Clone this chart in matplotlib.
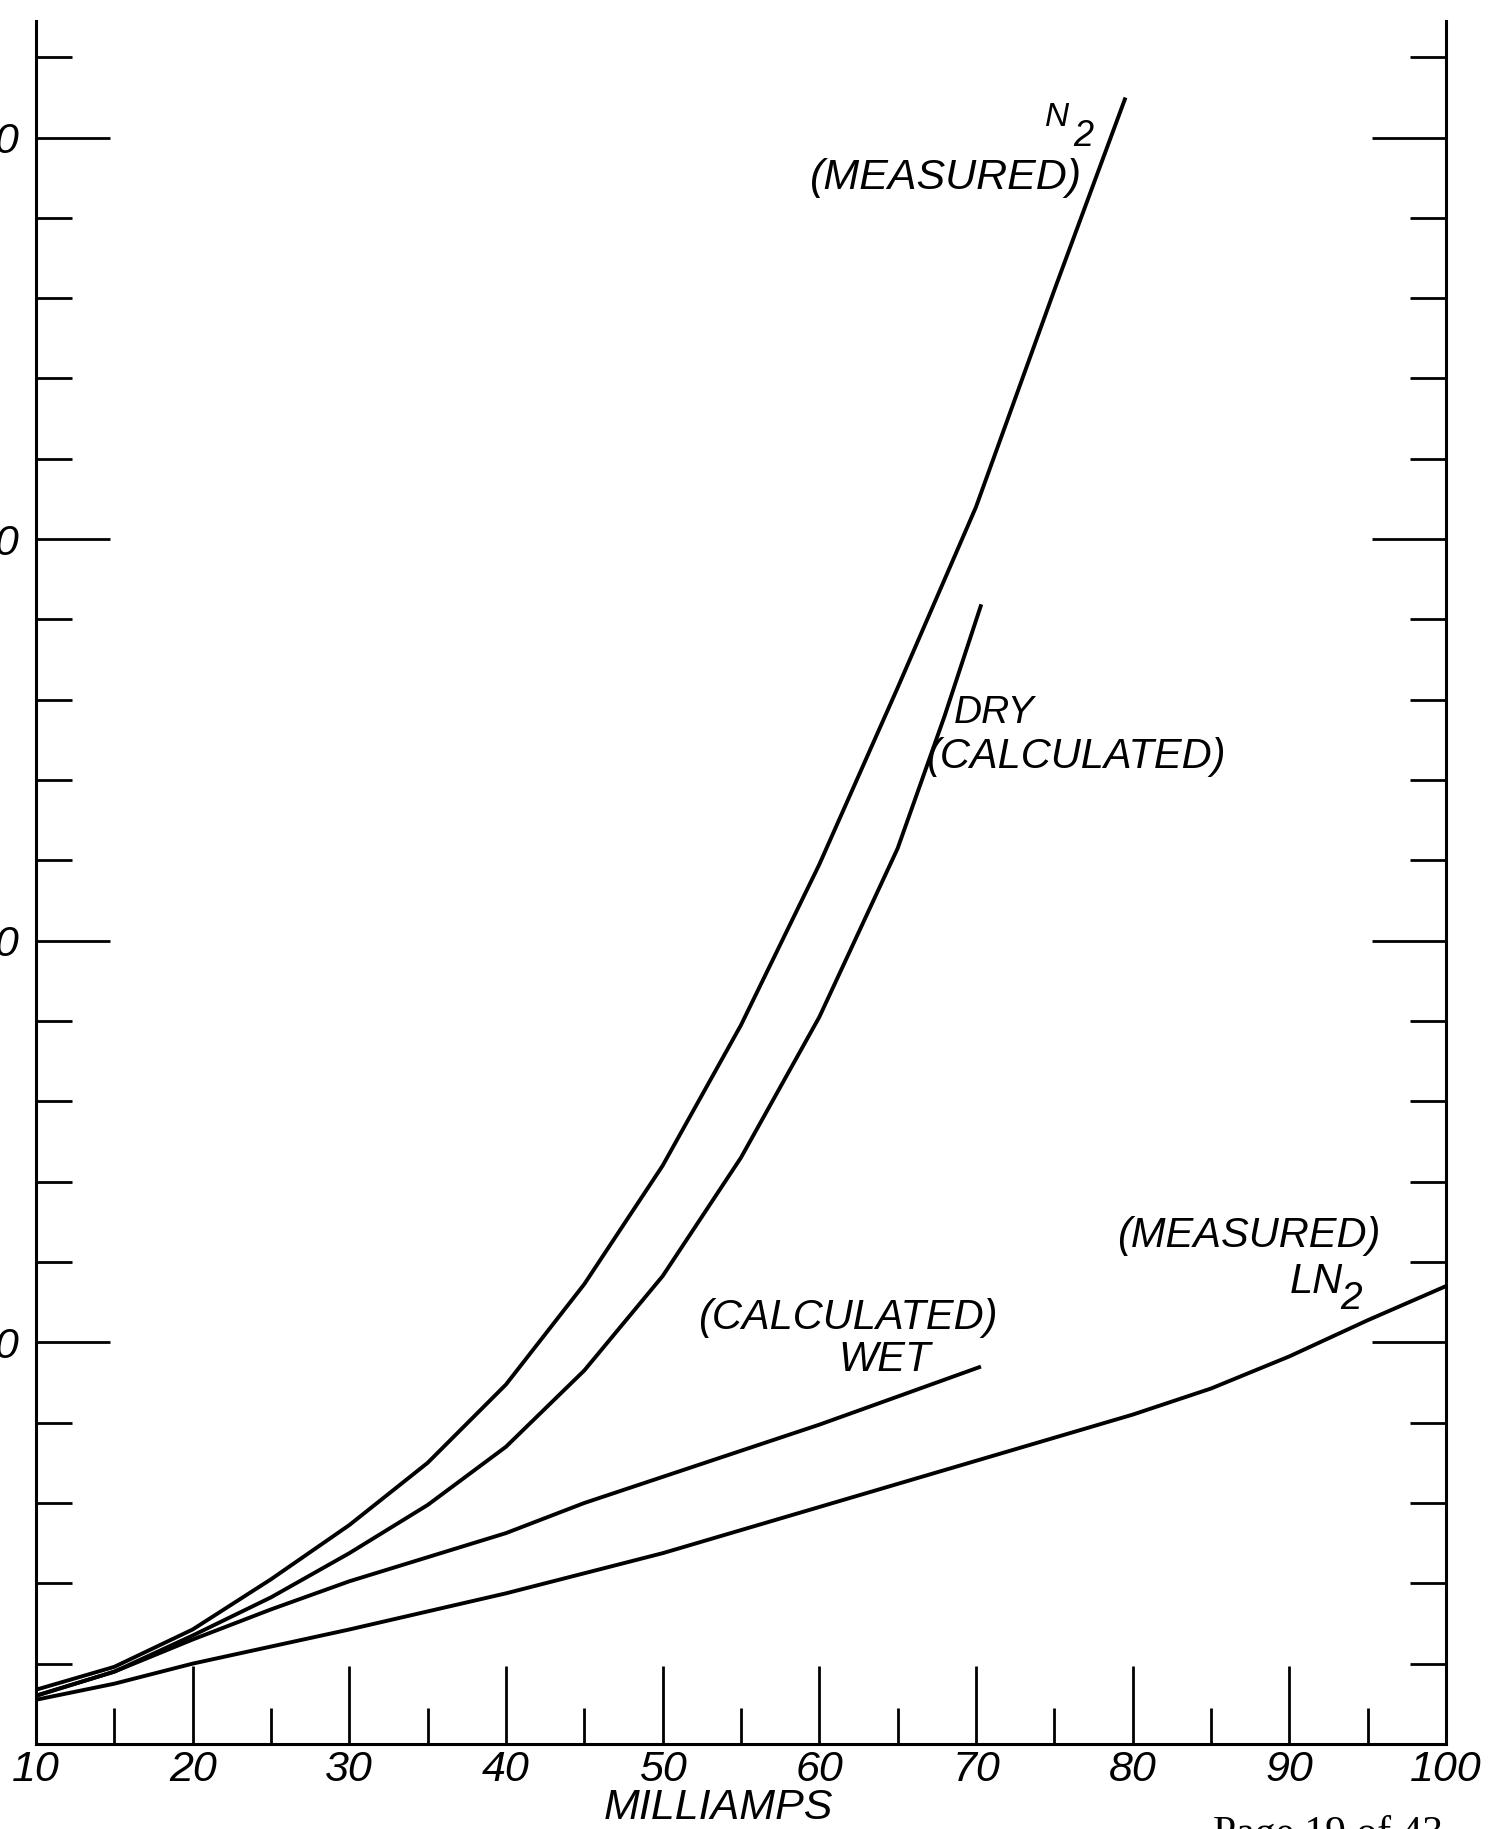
import matplotlib
matplotlib.use("Agg")
import matplotlib.pyplot as plt
from matplotlib.ticker import FixedLocator, MultipleLocator

plt.rcParams.update({"font.family": ["Liberation Sans", "DejaVu Sans"],
                     "font.style": "italic", "font.size": 30})

# milliamps -> curve value (y scale, major tick = 10)
n2_ma = [10, 15, 20, 25, 30, 35, 40, 45, 50, 55, 60, 65, 70, 75, 79.5]
n2_val = [1.35, 1.92, 2.85, 4.1, 5.45, 7.0, 8.95, 11.45, 14.4, 17.9, 21.9, 26.3, 30.8, 36.2, 40.95]
dry_ma = [10, 15, 20, 25, 30, 35, 40, 45, 50, 55, 60, 65, 68, 70.3]
dry_val = [1.2, 1.8, 2.7, 3.65, 4.75, 5.95, 7.4, 9.3, 11.65, 14.6, 18.1, 22.3, 25.6, 28.33]
wet_ma = [10, 15, 20, 25, 30, 35, 40, 45, 50, 55, 60, 65, 70.2]
wet_val = [1.2, 1.8, 2.6, 3.35, 4.05, 4.65, 5.25, 6.0, 6.65, 7.3, 7.95, 8.65, 9.38]
ln2_ma = [10, 15, 20, 30, 40, 50, 60, 70, 80, 85, 90, 95, 100]
ln2_val = [1.1, 1.5, 2.0, 2.85, 3.75, 4.75, 5.9, 7.05, 8.2, 8.85, 9.65, 10.55, 11.4]

x_ticks = [10, 20, 30, 40, 50, 60, 70, 80, 90, 100]
x_labels = ["10", "20", "30", "40", "50", "60", "70", "80", "90", "100"]
y_ticks = [10, 20, 30, 40]
y_labels = ["10", "20", "30", "40"]   # only the last digit survives the crop

fig = plt.figure(figsize=(15.05, 18.29), dpi=100)
ax = fig.add_axes([0.0239, 0.0465, 0.9369, 0.9420])

for xs, ys in [(n2_ma, n2_val), (dry_ma, dry_val), (wet_ma, wet_val), (ln2_ma, ln2_val)]:
    ax.plot(xs, ys, color="black", lw=2.8, solid_joinstyle="round")

ax.set_xlim(10, 100)
ax.set_ylim(0, 42.9)
ax.spines["top"].set_visible(False)
for s in ("left", "right", "bottom"):
    ax.spines[s].set_linewidth(2.2)

ax.xaxis.set_major_locator(FixedLocator(x_ticks))
ax.set_xticklabels(x_labels)
ax.xaxis.set_minor_locator(MultipleLocator(5))
ax.yaxis.set_major_locator(FixedLocator(y_ticks))
ax.set_yticklabels(y_labels)
ax.yaxis.set_minor_locator(MultipleLocator(2))

ax.tick_params(which="both", direction="in", left=True, right=True, bottom=True, top=False,
               labelright=False, width=2.0, colors="black")
ax.tick_params(which="major", length=53)
ax.tick_params(which="minor", length=26)
ax.tick_params(axis="x", which="major", length=56)
ax.tick_params(axis="x", labelsize=31, pad=4)
ax.tick_params(axis="y", labelsize=31, pad=12)

ax.set_xlabel("MILLIAMPS", fontsize=31)
ax.xaxis.set_label_coords(0.484, -0.0254)

# curve labels
ax.text(75.18, 40.5, "N", fontsize=24, ha="center", va="center")
ax.text(76.85, 40.02, "2", fontsize=26, ha="center", va="center")
ax.text(68.1, 39.0, "(MEASURED)", ha="center", va="center", fontsize=31)
ax.text(68.6, 25.67, "DRY", ha="left", va="center", fontsize=28)
ax.text(76.36, 24.58, "(CALCULATED)", ha="center", va="center")
ax.text(61.82, 10.6, "(CALCULATED)", ha="center", va="center")
ax.text(64.15, 9.55, "WET", ha="center", va="center")
ax.text(87.44, 12.65, "(MEASURED)", ha="center", va="center")
ax.text(90.04, 11.5, "LN", ha="left", va="center")
ax.text(93.96, 11.08, "2", ha="center", va="center", fontsize=28)

fig.text(1213 / 1505, 14 / 1829, "Page 19 of 43", family="Liberation Serif", style="normal",
         fontsize=30, ha="left", va="top")

fig.savefig("out.png", dpi=100, facecolor="white")
